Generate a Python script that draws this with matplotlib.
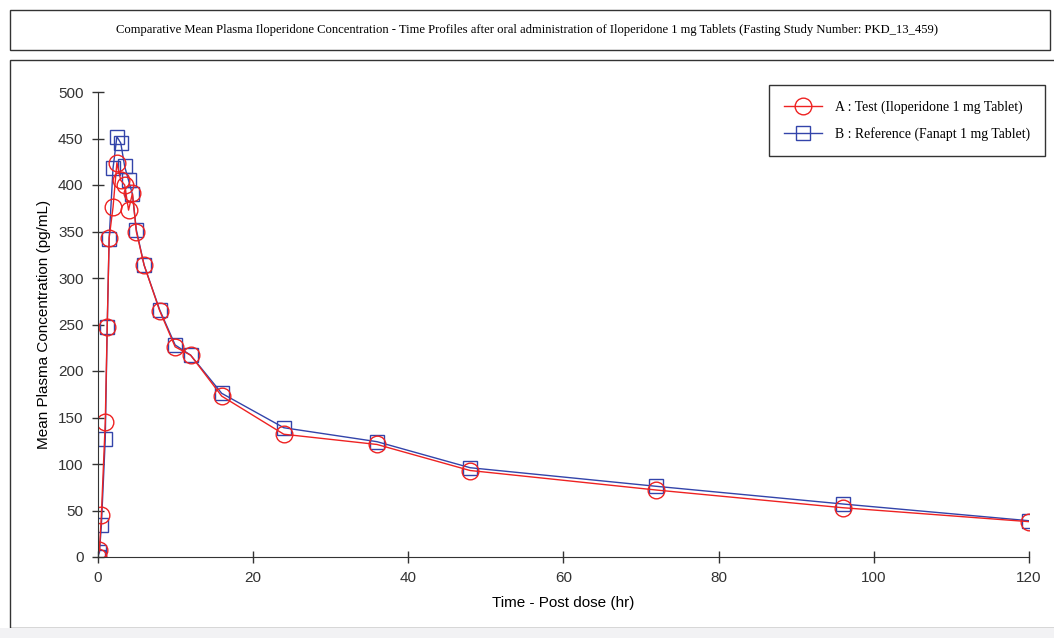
import matplotlib
matplotlib.use("Agg")
import matplotlib.pyplot as plt
from matplotlib.patches import Rectangle

# sampling times (hr)
time_hr = [0, 0.25, 0.5, 1, 1.25, 1.5, 2, 2.5, 3, 3.5, 4, 4.5, 5, 6, 8, 10,
           12, 16, 24, 36, 48, 72, 96, 120]
# A : Test (Iloperidone 1 mg Tablet)
test_conc = [0, 8, 45, 145, 247, 343, 376, 424, 405, 400, 373, 391, 350, 314,
             265, 226, 217, 173, 132, 121, 93, 72, 53, 38]
# B : Reference (Fanapt 1 mg Tablet)
ref_conc = [0, 5, 34, 127, 247, 342, 418, 452, 445, 420, 405, 390, 352, 314,
            266, 228, 217, 176, 139, 124, 96, 76, 57, 39]

title = ("Comparative Mean Plasma Iloperidone Concentration - Time Profiles after oral "
         "administration of Iloperidone 1 mg Tablets (Fasting Study Number: PKD_13_459)")

fig = plt.figure(figsize=(10.54, 6.38), dpi=100)
fig.patch.set_facecolor("white")

# frame boxes around title and chart
fig.add_artist(Rectangle((10 / 1054, 1 - 50 / 638), 1040 / 1054, 40 / 638,
                         transform=fig.transFigure, fill=False, lw=1.0, ec="#333333"))
fig.add_artist(Rectangle((10 / 1054, 1 - 628 / 638), 1050 / 1054, 568 / 638,
                         transform=fig.transFigure, fill=False, lw=1.0, ec="#333333"))
fig.add_artist(Rectangle((0, 0), 1, 10 / 638, transform=fig.transFigure,
                         fc="#f2f2f4", ec="none"))
fig.text(0.5, 1 - 30 / 638, title, ha="center", va="center",
         fontsize=9.1, family="Liberation Serif")

ax = fig.add_axes([97.5 / 1054, 1 - 557 / 638, 931.5 / 1054, 465 / 638])
ax.plot(time_hr, ref_conc, color="#3344aa", lw=1.0, marker="s",
        ms=10, mfc="none", mec="#3344aa", mew=1.0,
        label="B : Reference (Fanapt 1 mg Tablet)")
ax.plot(time_hr, test_conc, color="#ee2222", lw=1.0, marker="o",
        ms=12, mfc="none", mec="#ee2222", mew=1.0,
        label="A : Test (Iloperidone 1 mg Tablet)")

ax.set_xlim(0, 120)
ax.set_ylim(0, 500)
ax.set_xticks(range(0, 121, 20))
ax.set_yticks(range(0, 501, 50))
for s in ["top", "right"]:
    ax.spines[s].set_visible(False)
ax.spines["left"].set_color("#333333")
ax.spines["bottom"].set_color("#333333")
ax.tick_params(direction="inout", length=8, width=1, colors="#333333",
               labelsize=11, pad=6)
for lab in ax.get_xticklabels() + ax.get_yticklabels():
    lab.set_family("Liberation Sans")
ax.set_xlabel("Time - Post dose (hr)", fontsize=11, family="Liberation Sans", labelpad=8)
ax.set_ylabel("Mean Plasma Concentration (pg/mL)", fontsize=11,
              family="Liberation Sans", labelpad=5)

handles, labels = ax.get_legend_handles_labels()
leg = ax.legend(handles[::-1], labels[::-1], loc="upper right",
                bbox_to_anchor=(1045 / 1054, 1 - 85 / 638), bbox_transform=fig.transFigure,
                prop={"family": "Liberation Serif", "size": 9.9},
                frameon=True, fancybox=False, borderpad=1.1, labelspacing=0.95,
                handlelength=2.8, handletextpad=0.9, borderaxespad=0)
leg.get_frame().set_edgecolor("black")
leg.get_frame().set_linewidth(1.0)

fig.savefig("out.png", dpi=100)
